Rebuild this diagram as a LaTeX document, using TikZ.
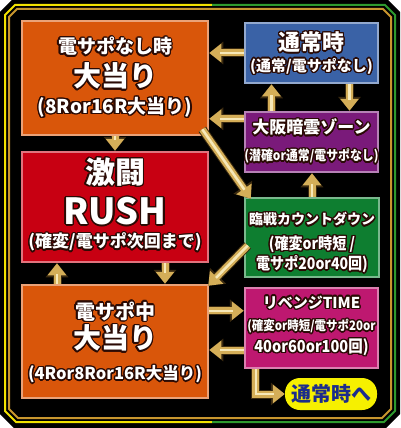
\documentclass[tikz,border=0pt]{standalone}
\usepackage{fontspec}
\setmainfont{Noto Sans CJK JP}
\newfontfamily\narrowjp{Noto Sans CJK JP}[FakeStretch=0.88]
\usepackage[copies]{contour}
\contourlength{1.4pt}
\contournumber{16}
\usetikzlibrary{arrows.meta}

\definecolor{boxorange}{HTML}{D9560A}
\definecolor{boxred}{HTML}{C80012}
\definecolor{boxblue}{HTML}{3A62A6}
\definecolor{boxpurple}{HTML}{7A1A7A}
\definecolor{boxgreen}{HTML}{0E7E30}
\definecolor{boxpink}{HTML}{BE1870}
\definecolor{pillyellow}{HTML}{F6F000}
\definecolor{pilltext}{HTML}{1C2C8C}
\definecolor{framey}{HTML}{F2E200}
\definecolor{frameg}{HTML}{2E9A2E}
\definecolor{framegold}{HTML}{C8962E}
\definecolor{arrowgold}{HTML}{D4AE58}
\definecolor{arrowlight}{HTML}{F6E8B8}
\definecolor{arrowdark}{HTML}{3A2A10}
\definecolor{textdark}{HTML}{2A0A04}

\begin{document}
\begin{tikzpicture}[
        x=1pt, y=-1pt,
        box/.style={rectangle, draw=#1!55!white, fill=#1, line width=2.5pt, inner sep=0pt},
        txt/.style={inner sep=0pt, text=white, font=\bfseries\fontsize{#1}{#1}\selectfont},
        ntxt/.style={inner sep=0pt, text=white, font=\narrowjp\bfseries\fontsize{#1}{#1}\selectfont},
        goldarrow/.style={draw=arrowgold, line width=7pt, -{Triangle[length=12pt,width=18pt]},
            preaction={draw=arrowdark, line width=9pt, -{Triangle[length=14pt,width=22pt]}},
            postaction={draw=arrowlight, line width=2.5pt, -, shorten >=11pt}},
    ]
    \useasboundingbox (0,0) rectangle (400,428);
    \fill[white] (0,0) rectangle (400,428);

    % frame
    \fill[black] (12,0) -- (388,0) -- (400,12) -- (400,414) -- (386,428) -- (14,428) -- (0,414) -- (0,12) -- cycle;
    \begin{scope}
        \clip (0,0) rectangle (212,428);
        \draw[framey, line width=2pt] (15,5) -- (385,5) -- (395,15) -- (395,411) -- (384,422) -- (16,422) -- (5,411) -- (5,15) -- cycle;
    \end{scope}
    \begin{scope}
        \clip (212,0) rectangle (400,428);
        \draw[frameg, line width=2pt] (15,5) -- (385,5) -- (395,15) -- (395,411) -- (384,422) -- (16,422) -- (5,411) -- (5,15) -- cycle;
    \end{scope}
    \draw[framegold, line width=2pt] (17,9) -- (383,9) -- (391,17) -- (391,409) -- (382,418) -- (18,418) -- (9,409) -- (9,17) -- cycle;

    % boxes
    \node[box=boxorange, minimum width=186pt, minimum height=114pt] (nashi) at (115,78) {};
    \node[box=boxred, minimum width=186pt, minimum height=110pt] (rush) at (115,207) {};
    \node[box=boxorange, minimum width=186pt, minimum height=113pt] (chu) at (115,341.5) {};
    \node[box=boxblue, minimum width=133pt, minimum height=60pt] (tsujo) at (311.5,53) {};
    \node[box=boxpurple, minimum width=133pt, minimum height=60pt] (anun) at (311.5,142) {};
    \node[box=boxgreen, minimum width=134pt, minimum height=79pt] (rinsen) at (312,237.5) {};
    \node[box=boxpink, minimum width=133pt, minimum height=80pt] (revenge) at (311.5,328) {};
    \node[fill=pillyellow, rounded corners=15pt, minimum width=92pt, minimum height=32pt, inner sep=0pt] (pill) at (331,394) {};

    % texts
    \node[txt=19] (nashi1) at (115,47) {\contour{textdark}{電サポなし時}};
    \node[txt=28] (nashi2) at (115,77) {\contour{textdark}{大当り}};
    \node[txt=19] (nashi3) at (115,108) {\contour{textdark}{(8Ror16R大当り)}};
    \node[txt=30] (rush1) at (115,173) {\contour{textdark}{激闘}};
    \node[txt=36] (rush2) at (115,212) {\contour{textdark}{RUSH}};
    \node[txt=17] (rush3) at (115,243) {\contour{textdark}{(確変/電サポ次回まで)}};
    \node[txt=20] (chu1) at (115,312) {\contour{textdark}{電サポ中}};
    \node[txt=28] (chu2) at (115,339) {\contour{textdark}{大当り}};
    \node[txt=16.5] (chu3) at (115,375) {\contour{textdark}{(4Ror8Ror16R大当り)}};
    \node[txt=22] (tsujo1) at (311.5,43) {\contour{textdark}{通常時}};
    \node[txt=15] (tsujo2) at (311.5,67) {\contour{textdark}{(通常/電サポなし)}};
    \node[txt=17] (anun1) at (311.5,128) {\contour{textdark}{大阪暗雲ゾーン}};
    \node[ntxt=13.5] (anun2) at (311.5,157) {\contour{textdark}{(潜確or通常/電サポなし)}};
    \node[txt=14] (rinsen1) at (312,220) {\contour{textdark}{臨戦カウントダウン}};
    \node[ntxt=16] (rinsen2) at (312,245) {\contour{textdark}{(確変or時短 /}};
    \node[ntxt=16] (rinsen3) at (312,265) {\contour{textdark}{電サポ20or40回)}};
    \node[txt=15] (revenge1) at (311.5,303) {\contour{textdark}{リベンジTIME}};
    \node[ntxt=13] (revenge2) at (311.5,327) {\contour{textdark}{(確変or時短/電サポ20or}};
    \node[ntxt=16.5] (revenge3) at (311.5,348) {\contour{textdark}{40or60or100回)}};
    \node[inner sep=0pt, text=pilltext, font=\bfseries\fontsize{20}{20}\selectfont] (pill1) at (331,394) {通常時へ};

    % connectors
    \coordinate (anunw) at ([yshift=-8pt]anun.north west);
    \coordinate (revhi) at ([yshift=-24pt]revenge.north west);
    \coordinate (revlo) at ([yshift=-22pt]revenge.west);
    \coordinate (revsw) at ([xshift=12pt]revenge.south west);

    \draw[goldarrow] (tsujo.west) -- (tsujo.west -| nashi.east);
    \draw[goldarrow] (anunw) -- (anunw -| nashi.east);
    \draw[goldarrow] (nashi.south) -- (rush.north);
    \draw[goldarrow] ([xshift=38pt]tsujo.south) -- ([xshift=38pt]anun.north);
    \draw[goldarrow] ([xshift=-40pt]anun.north) -- ([xshift=-40pt]tsujo.south);
    \draw[goldarrow] ([shift={(-7pt,7pt)}]nashi.south east) -- ([shift={(7pt,-2pt)}]rinsen.north west);
    \draw[goldarrow] (rinsen.north) -- (rinsen.north |- anun.south);
    \draw[goldarrow] ([shift={(4pt,-8pt)}]rinsen.west) -- ([shift={(-1pt,-2pt)}]chu.north east);
    \draw[goldarrow] ([xshift=50pt]rush.south) -- ([xshift=50pt]chu.north);
    \draw[goldarrow] ([xshift=-58pt]chu.north) -- ([xshift=-58pt]rush.south);
    \draw[goldarrow] (revhi -| chu.east) -- (revhi);
    \draw[goldarrow] (revlo) -- (revlo -| chu.east);
    \draw[goldarrow] (revsw) |- (pill.west);
\end{tikzpicture}
\end{document}
